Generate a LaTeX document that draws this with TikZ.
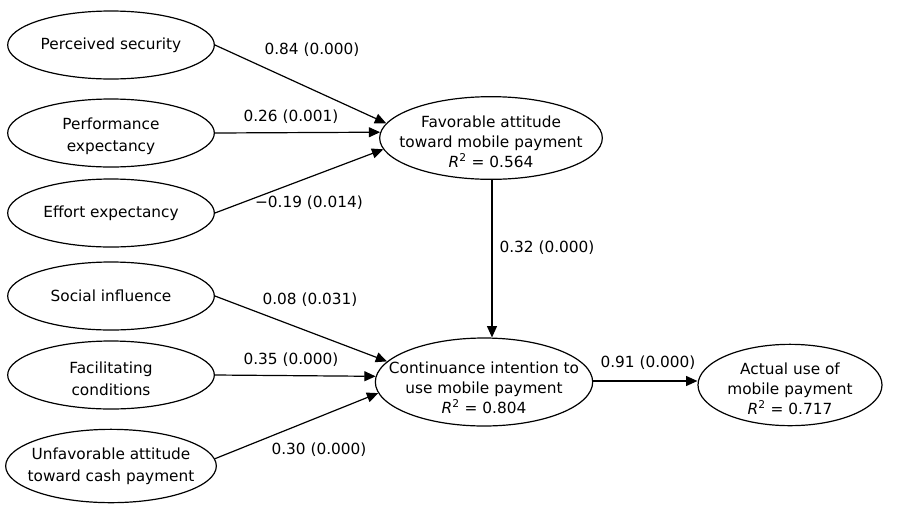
\documentclass[tikz,border=0pt]{standalone}
\usepackage{fontspec}
\setmainfont{DejaVu Sans}
\usetikzlibrary{shapes.geometric,arrows.meta,calc}

\tikzset{
  construct/.style={draw, ellipse, line width=0.9pt, inner sep=-40pt, align=center,
    font=\fontsize{11.5}{15}\selectfont},
  leftbox/.style={construct, minimum width=155pt, minimum height=51pt,
    font=\fontsize{11.5}{16.5}\selectfont},
  ctext/.style={align=center, inner sep=0pt, font=\fontsize{11.5}{15}\selectfont},
  ltext/.style={ctext, font=\fontsize{11.5}{16.5}\selectfont},
  path/.style={line width=0.9pt, -{Triangle[length=8.5pt,width=7.5pt]}},
  coef/.style={font=\fontsize{11.5}{13}\selectfont, inner sep=1pt}
}
\newcommand{\rsq}[1]{\textit{R}\textsuperscript{2} = #1}

\begin{document}
\begin{tikzpicture}[x=0.75pt,y=-0.75pt]
  \useasboundingbox (0,0) rectangle (924,504);

  % exogenous constructs
  \node[leftbox] (ps) at (111,45)  {Perceived security};
  \node[leftbox, label={[ltext, yshift=-2.5pt]center:{Performance\\expectancy}}]
        (pe) at (111,133) {};
  \node[leftbox] (ee) at (111,213) {Effort expectancy};
  \node[leftbox] (si) at (111,296) {Social influence};
  \node[leftbox, label={[ltext, yshift=-2.5pt]center:{Facilitating\\conditions}}]
        (fc) at (111,375) {};
  \node[leftbox, minimum width=158pt, minimum height=55pt] (ua) at (111,466)
       {Unfavorable attitude\\toward cash payment};

  % endogenous constructs (text set a little below the ellipse centre)
  \node[construct, minimum width=167pt, minimum height=62pt,
        label={[ctext, yshift=-2.5pt]center:{Favorable attitude\\toward mobile payment\\\rsq{0.564}}}]
        (fa) at (491,138) {};
  \node[construct, minimum width=163pt, minimum height=66pt,
        label={[ctext, yshift=-4.5pt]center:{Continuance intention to\\use mobile payment\\\rsq{0.804}}}]
        (ci) at (484,382) {};
  \node[construct, minimum width=138pt, minimum height=61pt,
        label={[ctext, yshift=-2.5pt]center:{Actual use of\\mobile payment\\\rsq{0.717}}}]
        (au) at (790,385) {};

  % paths into favorable attitude
  \draw[path] (ps.east) -- (fa.172);
  \draw[path] (pe.east) -- (fa.177);
  \draw[path] (ee.east) -- (fa.186);

  % paths into continuance intention
  \draw[path] (si.east) -- (ci.168);
  \draw[path] (fc.east) -- (ci.177);
  \draw[path] (ua.4)    -- (ci.186);

  % attitude -> intention -> use
  \coordinate (faout) at ($(fa.south)+(1,0)$);
  \draw[path] (faout) -- (faout |- ci.north);
  \draw[path] ($(ci.east)+(0,-1)$) -- ($(ci.east -| au.west)+(0,-1)$);

  % path coefficients
  \node[coef] (c1) at (312,50)  {0.84 (0.000)};
  \node[coef] (c2) at (291,117) {0.26 (0.001)};
  \node[coef] (c3) at (309,203) {\char"2212 0.19 (0.014)};
  \node[coef] (c4) at (310,300) {0.08 (0.031)};
  \node[coef] (c5) at (291,360) {0.35 (0.000)};
  \node[coef] (c6) at (319,450) {0.30 (0.000)};
  \node[coef] (c7) at (547,248) {0.32 (0.000)};
  \node[coef] (c8) at (648,363) {0.91 (0.000)};
\end{tikzpicture}
\end{document}
